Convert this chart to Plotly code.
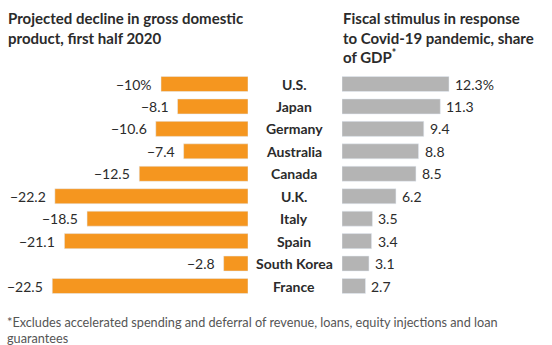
import plotly.graph_objects as go

countries = ["U.S.", "Japan", "Germany", "Australia", "Canada", "U.K.", "Italy", "Spain", "South Korea", "France"]
gdp_decline = [-10, -8.1, -10.6, -7.4, -12.5, -22.2, -18.5, -21.1, -2.8, -22.5]
stimulus = [12.3, 11.3, 9.4, 8.8, 8.5, 6.2, 3.5, 3.4, 3.1, 2.7]
gdp_labels = ["−10%", "−8.1", "−10.6", "−7.4", "−12.5", "−22.2", "−18.5", "−21.1", "−2.8", "−22.5"]
stim_labels = ["12.3%", "11.3", "9.4", "8.8", "8.5", "6.2", "3.5", "3.4", "3.1", "2.7"]
footnote_lines = ["*Excludes accelerated spending and deferral of revenue, loans, equity injections and loan",
                  "guarantees"]

W, H = 552, 345
ORANGE = "#F5961F"
GRAY = "#B4B4B4"
FONT = "Lato"
TXT = "#2b2b2b"

scale = 8.7  # px per unit
zero_left = 248
zero_right = 342

fig = go.Figure()
fig.add_trace(go.Bar(y=countries, x=gdp_decline, orientation="h", marker_color=ORANGE,
                     width=0.67, xaxis="x", yaxis="y", hoverinfo="skip"))
fig.add_trace(go.Bar(y=countries, x=stimulus, orientation="h", marker_color=GRAY,
                     width=0.67, xaxis="x2", yaxis="y", hoverinfo="skip"))

annotations = []
for c, v, t in zip(countries, gdp_decline, gdp_labels):
    annotations.append(dict(x=v, y=c, xref="x", yref="y", text=t, showarrow=False,
                            xanchor="right", xshift=-7, font=dict(family=FONT, size=14, color=TXT)))
for c, v, t in zip(countries, stimulus, stim_labels):
    annotations.append(dict(x=v, y=c, xref="x2", yref="y", text=t, showarrow=False,
                            xanchor="left", xshift=4, font=dict(family=FONT, size=14, color=TXT)))
for c in countries:
    annotations.append(dict(x=294 / W, y=c, xref="paper", yref="y", text="<b>" + c + "</b>",
                            showarrow=False, xanchor="center",
                            font=dict(family=FONT, size=14, color=TXT)))

annotations.append(dict(x=6 / W, y=1 - 7 / H, xref="paper", yref="paper", xanchor="left", yanchor="top",
                        align="left", showarrow=False,
                        text="<b>Projected decline in gross domestic<br>product, first half 2020</b>",
                        font=dict(family=FONT, size=15, color=TXT)))
annotations.append(dict(x=341 / W, y=1 - 7 / H, xref="paper", yref="paper", xanchor="left", yanchor="top",
                        align="left", showarrow=False,
                        text="<b>Fiscal stimulus in response<br>to Covid-19 pandemic, share<br>of GDP<sup>*</sup></b>",
                        font=dict(family=FONT, size=15, color=TXT)))
for i, line in enumerate(footnote_lines):
    annotations.append(dict(x=6 / W, y=1 - (322 + 15.5 * i) / H, xref="paper", yref="paper",
                            xanchor="left", yanchor="middle", align="left", showarrow=False,
                            borderpad=0, text=line,
                            font=dict(family=FONT, size=12.7, color="#555555")))

row = 22.44
top_px = 84 - row / 2
bot_px = 286 + row / 2

fig.update_layout(
    width=W, height=H, margin=dict(l=0, r=0, t=0, b=0),
    paper_bgcolor="white", plot_bgcolor="white", showlegend=False, barmode="overlay",
    xaxis=dict(domain=[0, zero_left / W], range=[-zero_left / scale, 0], visible=False, fixedrange=True),
    xaxis2=dict(domain=[zero_right / W, 1], range=[0, (W - zero_right) / scale], visible=False,
                anchor="y", fixedrange=True),
    yaxis=dict(domain=[1 - bot_px / H, 1 - top_px / H], autorange="reversed", visible=False,
               fixedrange=True, categoryorder="array", categoryarray=countries),
    annotations=annotations,
)

fig.write_html("out.html")
